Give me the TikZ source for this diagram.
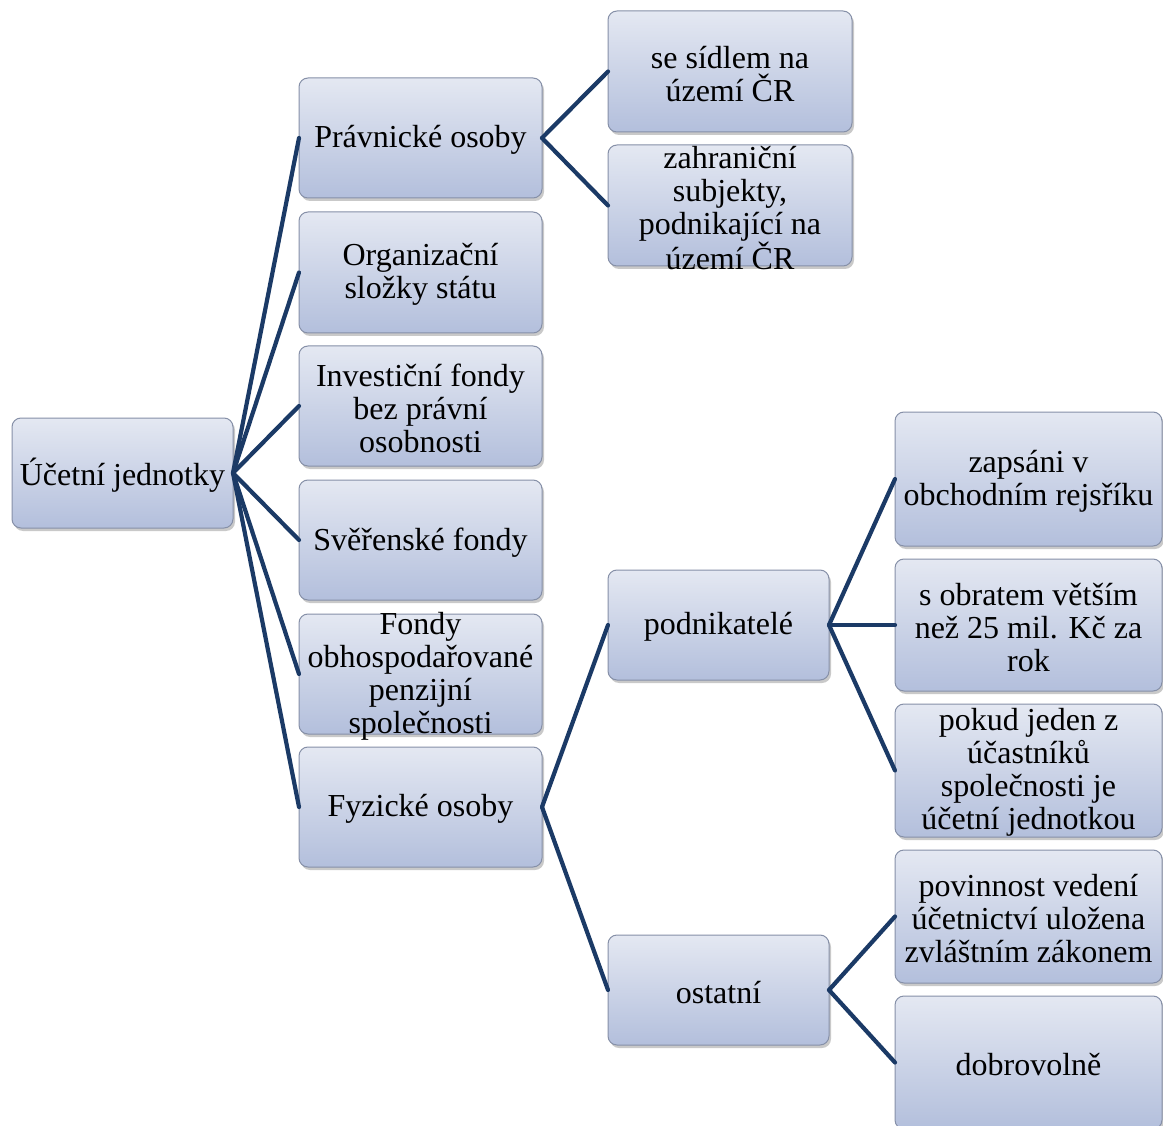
\documentclass[tikz,border=0pt]{standalone}
\usepackage{fontspec}
\setmainfont{Liberation Serif}
\usetikzlibrary{shadows}
\definecolor{boxtop}{HTML}{E4E8F2}
\definecolor{boxbot}{HTML}{B3BFDC}
\definecolor{boxline}{HTML}{8690A8}
\definecolor{conn}{HTML}{1B3A66}
\newcommand{\boxtxt}[2]{\parbox[c][0pt][c]{#1}{\vspace*{7pt}\centering\fontsize{32}{33}\selectfont #2}}
\tikzset{
  tbox/.style={rectangle, rounded corners=9pt, draw=boxline, line width=1pt,
    top color=boxtop, bottom color=boxbot, inner sep=0pt, outer sep=0pt,
    drop shadow={shadow xshift=2pt, shadow yshift=-3pt, opacity=0.35, fill=black!60}},
  conline/.style={draw=conn, line width=4.2pt, line cap=round}
}
\begin{document}
\begin{tikzpicture}[x=1pt,y=-1pt]
\useasboundingbox (0,0) rectangle (1163,1126);
\fill[white] (0,0) rectangle (1163,1126);
% root
\node[tbox, minimum width=221pt, minimum height=110pt] (root) at (122.5,473) {\boxtxt{219pt}{Účetní jednotky}};
% level 1
\node[tbox, minimum width=243pt, minimum height=120pt] (pr) at (420.5,138) {\boxtxt{240pt}{Právnické osoby}};
\node[tbox, minimum width=243pt, minimum height=121pt] (org) at (420.5,272.5) {\boxtxt{240pt}{Organizační\\složky státu}};
\node[tbox, minimum width=243pt, minimum height=120pt] (inv) at (420.5,406) {\boxtxt{240pt}{Investiční fondy\\bez právní\\osobnosti}};
\node[tbox, minimum width=243pt, minimum height=120pt] (sver) at (420.5,540) {\boxtxt{240pt}{Svěřenské fondy}};
\node[tbox, minimum width=243pt, minimum height=120pt] (fondy) at (420.5,674) {\boxtxt{240pt}{Fondy\\obhospodařované\\penzijní\\společnosti}};
\node[tbox, minimum width=243pt, minimum height=120pt] (fyz) at (420.5,807) {\boxtxt{240pt}{Fyzické osoby}};
% level 2
\node[tbox, minimum width=244pt, minimum height=121pt] (sidlo) at (730,71.5) {\boxtxt{240pt}{se sídlem na\\území ČR}};
\node[tbox, minimum width=244pt, minimum height=121pt] (zahr) at (730,205.5) {\boxtxt{240pt}{zahraniční\\subjekty,\\podnikající na\\území ČR}};
\node[tbox, minimum width=221pt, minimum height=110pt] (podn) at (718.5,625) {\boxtxt{215pt}{podnikatelé}};
\node[tbox, minimum width=221pt, minimum height=110pt] (ost) at (718.5,990) {\boxtxt{215pt}{ostatní}};
% level 3
\node[tbox, minimum width=267pt, minimum height=134pt] (zaps) at (1028.5,479) {\boxtxt{264pt}{zapsáni v\\obchodním rejsříku}};
\node[tbox, minimum width=267pt, minimum height=132pt] (obrat) at (1028.5,625) {\boxtxt{264pt}{s obratem větším\\než 25 mil. Kč za\\rok}};
\node[tbox, minimum width=267pt, minimum height=133pt] (pokud) at (1028.5,770.5) {\boxtxt{264pt}{pokud jeden z\\účastníků\\společnosti je\\účetní jednotkou}};
\node[tbox, minimum width=267pt, minimum height=133pt] (povin) at (1028.5,916.5) {\boxtxt{264pt}{povinnost vedení\\účetnictví uložena\\zvláštním zákonem}};
\node[tbox, minimum width=267pt, minimum height=133pt] (dobr) at (1028.5,1062.5) {\boxtxt{264pt}{dobrovolně}};
% connectors
\foreach \c in {pr,org,inv,sver,fondy,fyz} \draw[conline] (root.east) -- (\c.west);
\foreach \c in {sidlo,zahr} \draw[conline] (pr.east) -- (\c.west);
\foreach \c in {podn,ost} \draw[conline] (fyz.east) -- (\c.west);
\foreach \c in {zaps,obrat,pokud} \draw[conline] (podn.east) -- (\c.west);
\foreach \c in {povin,dobr} \draw[conline] (ost.east) -- (\c.west);
\end{tikzpicture}
\end{document}
